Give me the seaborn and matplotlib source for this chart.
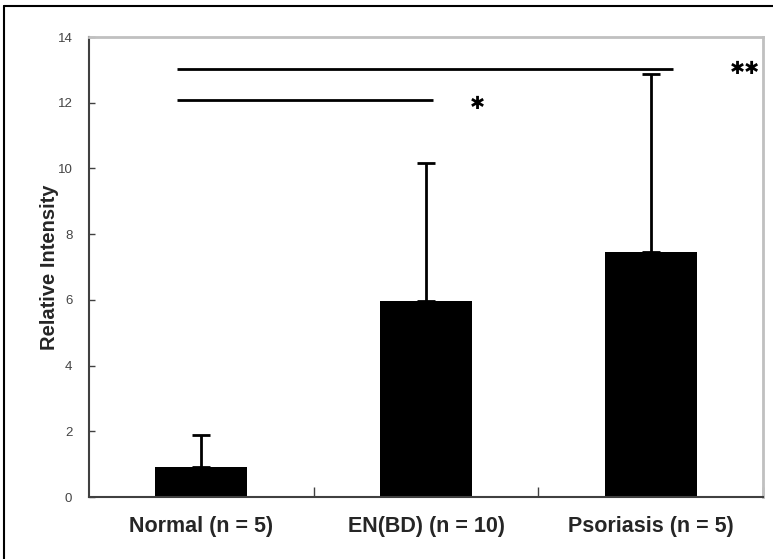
import matplotlib
matplotlib.use("Agg")
import matplotlib.pyplot as plt
from matplotlib.lines import Line2D
import seaborn as sns
import numpy as np

categories = ["Normal (n = 5)", "EN(BD) (n = 10)", "Psoriasis (n = 5)"]
means = [0.91, 5.96, 7.46]
sds = [0.98, 4.20, 5.41]
yticks = [0, 2, 4, 6, 8, 10, 12, 14]
ylabel = "Relative Intensity"
# significance comparisons: (x start, x end, y level, label)
sig_lines = [(-0.11, 1.03, 12.08, "\u2731"), (-0.11, 2.10, 13.03, "\u2731\u2731")]
sig_label_pos = [(1.23, 11.97), (2.42, 13.03)]

sns.set_theme(style="white")
plt.rcParams["font.family"] = ["Liberation Sans", "DejaVu Sans"]

fig = plt.figure(figsize=(7.73, 5.59), dpi=100)
ax = fig.add_axes([89 / 773, 1 - 497 / 559, (763 - 89) / 773, (497 - 37) / 559])

sns.barplot(x=categories, y=means, color="black", width=0.41, errorbar=None,
            saturation=1, ax=ax, edgecolor="black", linewidth=0)
ax.errorbar(np.arange(len(means)), means, yerr=[np.zeros(len(sds)), sds],
            fmt="none", ecolor="black", elinewidth=2.0, capsize=6.5, capthick=2.0)

ax.set_xlim(-0.5, 2.5)
ax.set_ylim(0, 14)
ax.set_yticks(yticks)
ax.set_yticklabels([str(t) for t in yticks], fontsize=9.5, color="#444444")
ax.set_ylabel(ylabel, fontsize=14.5, fontweight="bold")
ax.yaxis.set_label_coords(-0.044, 0.5)

ax.set_xticks([0, 1, 2])
ax.set_xticklabels(categories, fontsize=15.5, fontweight="bold")
ax.tick_params(axis="x", length=0, pad=14)
ax.tick_params(axis="y", direction="in", length=4, width=1, color="#404040", left=True, pad=12)
ax.set_xticks([0.5, 1.5, 2.5], minor=True)
ax.tick_params(axis="x", which="minor", direction="in", length=7, width=1,
               color="#404040", bottom=True)
ax.set_xlabel("")

for side in ["left", "bottom"]:
    ax.spines[side].set_color("#404040")
    ax.spines[side].set_linewidth(1.5)
for side in ["top", "right"]:
    ax.spines[side].set_visible(True)
    ax.spines[side].set_color("#c0c0c0")
    ax.spines[side].set_linewidth(2)

for (x0, x1, y, lab), (lx, ly) in zip(sig_lines, sig_label_pos):
    ax.plot([x0, x1], [y, y], color="black", lw=2.0, solid_capstyle="butt", clip_on=False)
    ax.text(lx, ly, lab, ha="center", va="center", fontsize=13,
            color="black", clip_on=False, family=["DejaVu Sans"])

# figure frame lines (left and top)
fig.add_artist(Line2D([4 / 773, 4 / 773], [0, 1 - 6 / 559], color="black", lw=1.5,
                      transform=fig.transFigure))
fig.add_artist(Line2D([4 / 773, 1], [1 - 6 / 559, 1 - 6 / 559], color="black", lw=1.5,
                      transform=fig.transFigure))

fig.savefig("out.png", dpi=100)
